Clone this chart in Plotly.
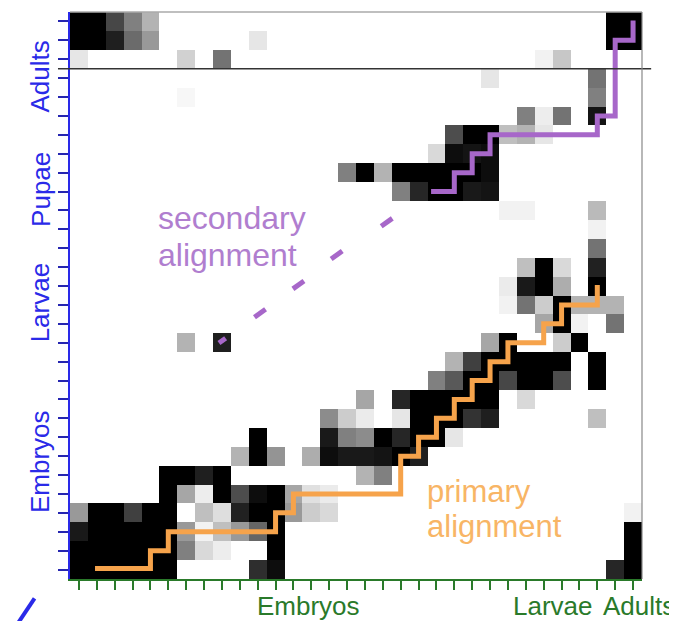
import plotly.graph_objects as go

# ---------------- data ----------------
n_cols = 32
n_rows = 30

# grey level of every cell (0 = white, 1 = black); rows listed from top to bottom
shade_rows_top_to_bottom = [
    [1, 1, .72, .5, .3, 0, 0, 0, 0, 0, 0, 0, 0, 0, 0, 0, 0, 0, 0, 0, 0, 0, 0, 0, 0, 0, 0, 0, 0, 0, 1, 1],
    [1, 1, .88, .58, .4, 0, 0, 0, 0, 0, .1, 0, 0, 0, 0, 0, 0, 0, 0, 0, 0, 0, 0, 0, 0, 0, 0, 0, 0, 0, 1, 1],
    [.1, 0, 0, 0, 0, 0, .18, 0, .55, 0, 0, 0, 0, 0, 0, 0, 0, 0, 0, 0, 0, 0, 0, 0, 0, 0, .05, .22, 0, 0, 0, 0],
    [0, 0, 0, 0, 0, 0, 0, 0, 0, 0, 0, 0, 0, 0, 0, 0, 0, 0, 0, 0, 0, 0, 0, .1, 0, 0, 0, 0, 0, .55, 0, 0],
    [0, 0, 0, 0, 0, 0, .03, 0, 0, 0, 0, 0, 0, 0, 0, 0, 0, 0, 0, 0, 0, 0, 0, 0, 0, 0, 0, 0, 0, .5, 0, 0],
    [0, 0, 0, 0, 0, 0, 0, 0, 0, 0, 0, 0, 0, 0, 0, 0, 0, 0, 0, 0, 0, 0, 0, 0, 0, .5, .07, .55, 0, .92, 0, 0],
    [0, 0, 0, 0, 0, 0, 0, 0, 0, 0, 0, 0, 0, 0, 0, 0, 0, 0, 0, 0, 0, .7, 1, 1, .25, .3, .1, 0, 0, 0, 0, 0],
    [0, 0, 0, 0, 0, 0, 0, 0, 0, 0, 0, 0, 0, 0, 0, 0, 0, 0, 0, 0, .15, .95, .92, .95, 0, 0, 0, 0, 0, 0, 0, 0],
    [0, 0, 0, 0, 0, 0, 0, 0, 0, 0, 0, 0, 0, 0, 0, .5, 1, .3, 1, 1, 1, 1, 1, .95, 0, 0, 0, 0, 0, 0, 0, 0],
    [0, 0, 0, 0, 0, 0, 0, 0, 0, 0, 0, 0, 0, 0, 0, 0, 0, 0, .5, .85, 1, 1, .9, .92, 0, 0, 0, 0, 0, 0, 0, 0],
    [0, 0, 0, 0, 0, 0, 0, 0, 0, 0, 0, 0, 0, 0, 0, 0, 0, 0, 0, 0, 0, 0, 0, 0, .05, .05, 0, 0, 0, .27, 0, 0],
    [0, 0, 0, 0, 0, 0, 0, 0, 0, 0, 0, 0, 0, 0, 0, 0, 0, 0, 0, 0, 0, 0, 0, 0, 0, 0, 0, 0, 0, .05, 0, 0],
    [0, 0, 0, 0, 0, 0, 0, 0, 0, 0, 0, 0, 0, 0, 0, 0, 0, 0, 0, 0, 0, 0, 0, 0, 0, 0, 0, 0, 0, .55, 0, 0],
    [0, 0, 0, 0, 0, 0, 0, 0, 0, 0, 0, 0, 0, 0, 0, 0, 0, 0, 0, 0, 0, 0, 0, 0, 0, .25, 1, .15, 0, .87, 0, 0],
    [0, 0, 0, 0, 0, 0, 0, 0, 0, 0, 0, 0, 0, 0, 0, 0, 0, 0, 0, 0, 0, 0, 0, 0, .08, .9, 1, .32, 0, 1, 0, 0],
    [0, 0, 0, 0, 0, 0, 0, 0, 0, 0, 0, 0, 0, 0, 0, 0, 0, 0, 0, 0, 0, 0, 0, 0, .05, .55, .2, 1, .3, .3, .3, 0],
    [0, 0, 0, 0, 0, 0, 0, 0, 0, 0, 0, 0, 0, 0, 0, 0, 0, 0, 0, 0, 0, 0, 0, 0, 0, 0, .35, 1, .05, 0, .55, 0],
    [0, 0, 0, 0, 0, 0, .3, 0, .88, 0, 0, 0, 0, 0, 0, 0, 0, 0, 0, 0, 0, 0, 0, .35, 1, 0, 0, .2, 1, 0, 0, 0],
    [0, 0, 0, 0, 0, 0, 0, 0, 0, 0, 0, 0, 0, 0, 0, 0, 0, 0, 0, 0, 0, .3, .75, 1, 1, 1, 1, 1, 0, 1, 0, 0],
    [0, 0, 0, 0, 0, 0, 0, 0, 0, 0, 0, 0, 0, 0, 0, 0, 0, 0, 0, 0, .5, .65, 1, 1, .72, 1, 1, .7, 0, 1, 0, 0],
    [0, 0, 0, 0, 0, 0, 0, 0, 0, 0, 0, 0, 0, 0, 0, 0, .35, 0, .85, 1, 1, 1, 1, 1, 0, .15, 0, 0, 0, 0, 0, 0],
    [0, 0, 0, 0, 0, 0, 0, 0, 0, 0, 0, 0, 0, 0, .45, .2, .08, 0, .1, 1, 1, 1, .8, .88, 0, 0, 0, 0, 0, .25, 0, 0],
    [0, 0, 0, 0, 0, 0, 0, 0, 0, 0, 1, 0, 0, 0, .9, .5, .45, 1, .85, 1, 1, .1, 0, 0, 0, 0, 0, 0, 0, 0, 0, 0],
    [0, 0, 0, 0, 0, 0, 0, 0, 0, .3, 1, .42, 0, .32, .95, .9, .9, .92, 1, .88, 0, 0, 0, 0, 0, 0, 0, 0, 0, 0, 0, 0],
    [0, 0, 0, 0, 0, 1, 1, .88, 1, 0, 0, 0, 0, 0, 0, 0, .3, .5, 0, 0, 0, 0, 0, 0, 0, 0, 0, 0, 0, 0, 0, 0],
    [0, 0, 0, 0, 0, 1, .35, .07, 1, .7, .95, 1, .35, .12, .08, 0, 0, 0, 0, 0, 0, 0, 0, 0, 0, 0, 0, 0, 0, 0, 0, 0],
    [.4, 1, 1, .75, 1, 1, 0, .25, .13, .87, 1, 1, .4, .2, .15, 0, 0, 0, 0, 0, 0, 0, 0, 0, 0, 0, 0, 0, 0, 0, 0, .05],
    [.9, 1, 1, 1, 1, 1, .4, .05, .25, .4, .6, 1, 0, 0, 0, 0, 0, 0, 0, 0, 0, 0, 0, 0, 0, 0, 0, 0, 0, 0, 0, 1],
    [1, 1, 1, 1, 1, 1, .5, .15, .07, 0, 0, 1, 0, 0, 0, 0, 0, 0, 0, 0, 0, 0, 0, 0, 0, 0, 0, 0, 0, 0, 0, 1],
    [1, 1, 1, 1, 1, 1, 0, 0, 0, 0, .82, .95, 0, 0, 0, 0, 0, 0, 0, 0, 0, 0, 0, 0, 0, 0, 0, 0, 0, 0, .85, 1],
]

# alignment paths (column index, row index)
primary_x = [0.9, 4, 4, 5, 5, 11, 11, 12, 12, 18, 18, 19, 19, 20, 20, 21, 21, 22, 22, 23, 23, 24, 24, 26, 26, 27, 27, 29, 29]
primary_y = [0.05, 0.05, 1, 1, 2, 2, 3, 3, 4, 4, 6, 6, 7, 7, 8, 8, 9, 9, 10, 10, 11, 11, 12, 12, 13, 13, 14, 14, 15.05]

secondary_x = [19.7, 21, 21, 22, 22, 23, 23, 29, 29, 30, 30, 31, 31]
secondary_y = [20, 20, 21, 21, 22, 22, 23, 23, 24, 24, 28, 28, 29.05]

# dashed (unaligned) part of the secondary alignment: dash centres
dash_x = [8.02, 10.13, 12.28, 14.42, 17.22]
dash_y = [12.11, 13.56, 15.06, 16.64, 18.37]

# stage groups
row_groups = ["Embryos", "Larvae", "Pupae", "Adults"]
row_group_pos = [5.7, 14.15, 20.1, 26.1]
col_groups = ["Embryos", "Larvae", "Adults"]
col_group_pos = [12.87, 26.5, 31.35]
stage_break_row = 26.5

# text labels: (line, column position, row position)
secondary_label = [("secondary", 4.3, 18.6), ("alignment", 4.3, 16.65)]
primary_label = [("primary", 19.35, 4.15), ("alignment", 19.35, 2.3)]

# ---------------- figure ----------------
FONT = "Liberation Sans, Arial, sans-serif"
ORANGE = "#F6A34B"
ORANGE_TXT = "#F8B565"
PURPLE = "#A767C9"
PURPLE_TXT = "#B07ECF"
BLUE = "#2a2ae8"
GREEN = "#2a7a2a"

z = shade_rows_top_to_bottom[::-1]

fig = go.Figure()
fig.add_trace(go.Heatmap(
    z=z, x=list(range(n_cols)), y=list(range(n_rows)),
    colorscale=[[0, "#ffffff"], [1, "#000000"]], zmin=0, zmax=1,
    showscale=False, hoverinfo="skip"))

fig.add_trace(go.Scatter(x=primary_x, y=primary_y, mode="lines",
                         line=dict(color=ORANGE, width=5), hoverinfo="skip"))
fig.add_trace(go.Scatter(x=secondary_x, y=secondary_y, mode="lines",
                         line=dict(color=PURPLE, width=5), hoverinfo="skip"))

# dashes
hx, hy = 0.31, 0.21
dxs, dys = [], []
for i, (cx, cy) in enumerate(zip(dash_x, dash_y)):
    k = 0.6 if i == 0 else 1.0
    dxs += [cx - hx * k, cx + hx * k, None]
    dys += [cy - hy * k, cy + hy * k, None]
fig.add_trace(go.Scatter(x=dxs, y=dys, mode="lines",
                         line=dict(color=PURPLE, width=5), hoverinfo="skip"))

annotations = []
for name, pos in zip(row_groups, row_group_pos):
    annotations.append(dict(text=name, x=-0.052, xref="paper", y=pos, yref="y",
                            xanchor="center", yanchor="middle",
                            textangle=-90, showarrow=False,
                            font=dict(family=FONT, size=26, color=BLUE)))
for name, pos in zip(col_groups, col_group_pos):
    annotations.append(dict(text=name, x=pos, xref="x", y=-0.048, yref="paper",
                            showarrow=False, xanchor="center", yanchor="middle",
                            font=dict(family=FONT, size=26, color=GREEN)))
for txt, cx, cy in secondary_label:
    annotations.append(dict(text=txt, x=cx, y=cy, xref="x", yref="y",
                            xanchor="left", yanchor="middle", showarrow=False,
                            font=dict(family=FONT, size=32, color=PURPLE_TXT)))
for txt, cx, cy in primary_label:
    annotations.append(dict(text=txt, x=cx, y=cy, xref="x", yref="y",
                            xanchor="left", yanchor="middle", showarrow=False,
                            font=dict(family=FONT, size=31, color=ORANGE_TXT)))

shapes = [
    # stage break line
    dict(type="line", xref="paper", yref="y", x0=-0.021, x1=1.016,
         y0=stage_break_row, y1=stage_break_row, line=dict(color="#333333", width=1.5)),
    # top / right frame
    dict(type="line", xref="paper", yref="paper", x0=0, x1=1, y0=1, y1=1,
         line=dict(color="#aaaaaa", width=1.5)),
    dict(type="line", xref="paper", yref="paper", x0=1, x1=1, y0=0, y1=1,
         line=dict(color="#888888", width=1.2)),
    # blue stroke at the bottom-left corner
    dict(type="line", xref="paper", yref="paper", x0=-0.091, y0=-0.078, x1=-0.062, y1=-0.034,
         line=dict(color=BLUE, width=4)),
]

# the page adds an 8px body margin, so the figure is 8px smaller than the window
fig.update_layout(
    width=669, height=613,
    margin=dict(l=62, r=35, t=4, b=42),
    paper_bgcolor="white", plot_bgcolor="white",
    showlegend=False,
    annotations=annotations, shapes=shapes,
    xaxis=dict(range=[-0.5, n_cols - 0.5], tickvals=list(range(n_cols)), showticklabels=False,
               ticks="outside", ticklen=9, tickwidth=1.5, tickcolor=GREEN,
               showline=True, linecolor=GREEN, linewidth=2, showgrid=False, zeroline=False,
               fixedrange=True),
    yaxis=dict(range=[-0.5, n_rows - 0.5], tickvals=list(range(n_rows)), showticklabels=False,
               ticks="outside", ticklen=10, tickwidth=1.5, tickcolor="#2626b0",
               showline=True, linecolor=BLUE, linewidth=2, showgrid=False, zeroline=False,
               fixedrange=True),
)

fig.write_html("out.html")
